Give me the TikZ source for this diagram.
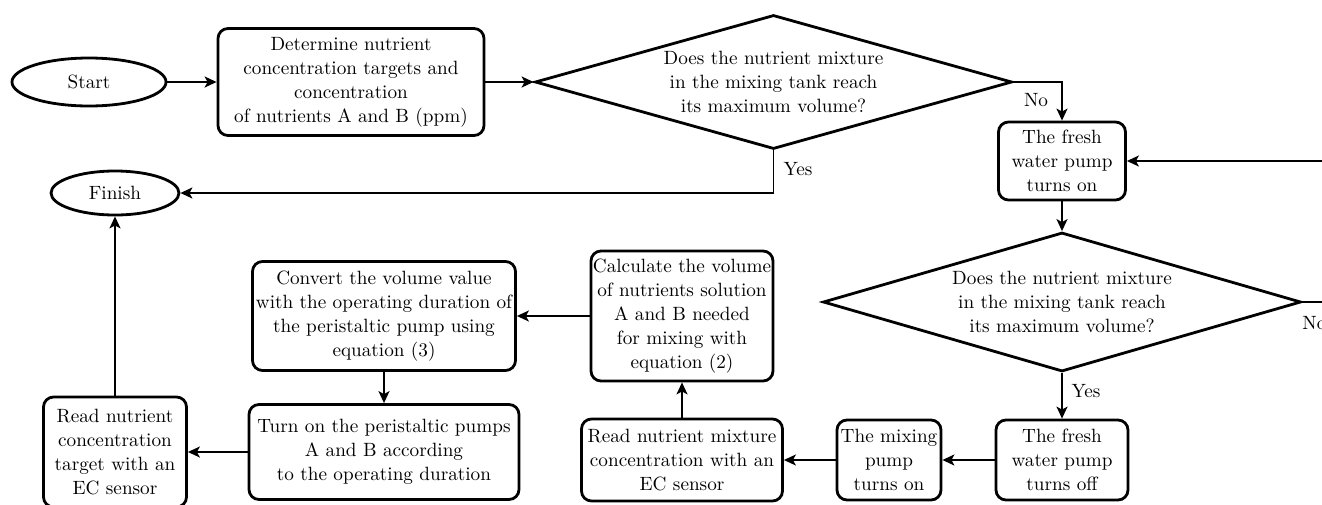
\documentclass[tikz,border=0pt]{standalone}
\usetikzlibrary{shapes.geometric,arrows.meta}
\begin{document}
\begin{tikzpicture}[x=0.5pt,y=-0.5pt,
  every node/.style={font=\fontsize{9.6}{12}\selectfont},
  box/.style={draw,line width=1.4pt,rounded corners=5pt,align=center,inner sep=0pt},
  term/.style={draw,ellipse,line width=1.4pt,inner sep=0pt},
  dec/.style={draw,diamond,aspect=3.5,line width=1.4pt,align=center,inner sep=0pt},
  conn/.style={line width=0.9pt,-{Stealth[length=6pt,width=5.5pt,inset=1.5pt]}},
  plain/.style={line width=0.9pt},
  lbl/.style={inner sep=0pt}]
\useasboundingbox (0,0) rectangle (1322,504);
\clip (0,0) rectangle (1322,504);

\node[term,minimum width=77pt,minimum height=24pt] (start) at (89,82) {Start};
\node[box,minimum width=133pt,minimum height=53.5pt] (det) at (351,82) {Determine nutrient\\concentration targets and\\concentration\\of nutrients A and B (ppm)};
\node[dec,minimum width=238.5pt,minimum height=67pt] (d1) at (773.5,82) {Does the nutrient mixture\\in the mixing tank reach\\its maximum volume?};
\node[term,minimum width=64pt,minimum height=22pt] (fin) at (115,193) {Finish};
\node[box,minimum width=63.5pt,minimum height=39pt] (fon) at (1062,161) {The fresh\\water pump\\turns on};
\node[dec,minimum width=239pt,minimum height=69.5pt] (d2) at (1062,302) {Does the nutrient mixture\\in the mixing tank reach\\its maximum volume?};
\node[box,minimum width=66pt,minimum height=40pt] (foff) at (1062,460) {The fresh\\water pump\\turns off};
\node[box,minimum width=52pt,minimum height=40pt] (mix) at (889,460) {The mixing\\pump\\turns on};
\node[box,minimum width=100.5pt,minimum height=41pt] (rmix) at (682,460) {Read nutrient mixture\\concentration with an\\EC sensor};
\node[box,minimum width=91pt,minimum height=65pt] (calc) at (682,316) {Calculate the volume\\of nutrients solution\\A and B needed\\for mixing with\\equation (2)};
\node[box,minimum width=131.5pt,minimum height=54.5pt] (conv) at (384,316) {Convert the volume value\\with the operating duration of\\the peristaltic pump using\\equation (3)};
\node[box,minimum width=135pt,minimum height=47.5pt] (turn) at (384,452) {Turn on the peristaltic pumps\\A and B according\\to the operating duration};
\node[box,minimum width=71.5pt,minimum height=55pt] (rtar) at (115,452) {Read nutrient\\concentration\\target with an\\EC sensor};

\coordinate (r1) at (1340,161);
\coordinate (r2) at (1340,302);

\draw[conn] (start) -- (det);
\draw[conn] (det) -- (d1);
\draw[conn] (d1.east) -| (fon.north);
\draw[conn] (d1.south) |- (fin.east);
\draw[conn] (r1) -- (fon);
\draw[conn] (fon) -- (d2);
\draw[plain] (d2.east) -- (r2);
\draw[conn] (d2) -- (foff);
\draw[conn] (foff) -- (mix);
\draw[conn] (mix) -- (rmix);
\draw[conn] (rmix) -- (calc);
\draw[conn] (calc) -- (conv);
\draw[conn] (conv) -- (turn);
\draw[conn] (turn) -- (rtar);
\draw[conn] (rtar) -- (fin);

\node[lbl] (no1) at (1036,100) {No};
\node[lbl] (yes1) at (798,169) {Yes};
\node[lbl] (yes2) at (1086,391) {Yes};
\node[lbl,anchor=west] (no2) at (1302,323) {No};
\end{tikzpicture}
\end{document}
